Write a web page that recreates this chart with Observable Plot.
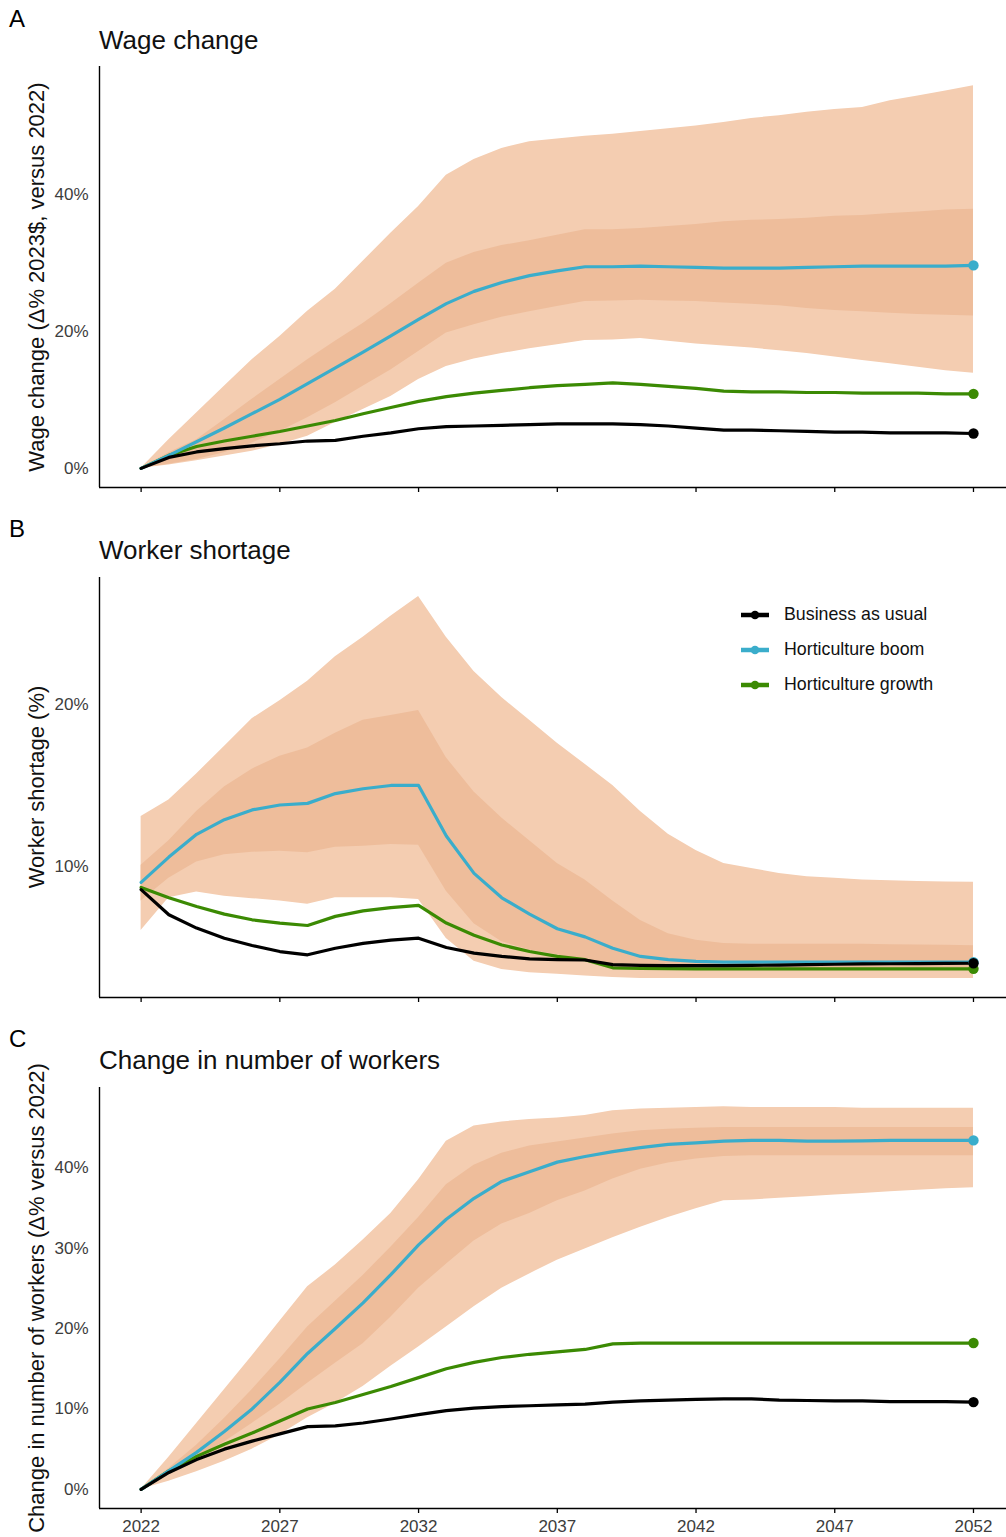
<!DOCTYPE html>
<html>
<head>
<meta charset="utf-8">
<script src="https://cdn.jsdelivr.net/npm/d3@7"></script>
<script src="https://cdn.jsdelivr.net/npm/@observablehq/plot@0.6"></script>
<style>
  html, body { margin: 0; padding: 0; background: #fff; }
  #root { position: relative; width: 1006px; height: 1537px; overflow: hidden; font-family: "Liberation Sans", Arial, Helvetica, sans-serif; }
  .panel { position: absolute; left: 0; }
  .letter { position: absolute; left: 9px; font-size: 24px; line-height: 1; color: #000; }
  .title { position: absolute; left: 99px; font-size: 26px; line-height: 1; color: #111; white-space: nowrap; }
  .ytitle { position: absolute; font-size: 22px; line-height: 1; color: #111; white-space: nowrap; transform: translate(-50%, -50%) rotate(-90deg); }
  .legend { position: absolute; left: 741px; top: 597px; }
  .legend .row { display: flex; align-items: center; height: 35px; font-size: 17.8px; color: #111; }
  .legend svg { margin-right: 15px; }
</style>
</head>
<body>
<div id="root"></div>
<script>
const years = d3.range(2022, 2053);
const scenarios = ["Business as usual", "Horticulture boom", "Horticulture growth"];
const scenarioColors = ["#000000", "#3AADCB", "#3B8A03"];
const xTicks = [2022, 2027, 2032, 2037, 2042, 2047, 2052];

// Panel A: wage change (%)
const wageBAU = [0, 1.6, 2.4, 2.9, 3.3, 3.6, 4.0, 4.1, 4.7, 5.2, 5.8, 6.1, 6.2, 6.3, 6.4, 6.5, 6.5, 6.5, 6.4, 6.2, 5.9, 5.6, 5.6, 5.5, 5.4, 5.3, 5.3, 5.2, 5.2, 5.2, 5.1];
const wageBoom = [0, 1.9, 3.9, 5.9, 8.0, 10.1, 12.4, 14.7, 17.0, 19.4, 21.8, 24.1, 25.9, 27.2, 28.2, 28.9, 29.5, 29.5, 29.6, 29.5, 29.4, 29.3, 29.3, 29.3, 29.4, 29.5, 29.6, 29.6, 29.6, 29.6, 29.7];
const wageGrowth = [0, 1.9, 3.2, 4.0, 4.7, 5.4, 6.2, 7.0, 8.0, 8.9, 9.8, 10.5, 11.0, 11.4, 11.8, 12.1, 12.3, 12.5, 12.3, 12.0, 11.7, 11.3, 11.2, 11.2, 11.1, 11.1, 11.0, 11.0, 11.0, 10.9, 10.9];
const wageOuterLo = [0, 0.5, 1.1, 1.8, 2.5, 3.5, 4.7, 6.7, 8.6, 10.5, 13.0, 14.9, 16.0, 16.8, 17.5, 18.1, 18.7, 18.8, 19.0, 18.6, 18.2, 17.9, 17.6, 17.2, 16.8, 16.3, 15.8, 15.3, 14.8, 14.3, 13.9];
const wageOuterHi = [0, 4.2, 8.1, 12.0, 15.9, 19.3, 23.0, 26.2, 30.3, 34.4, 38.3, 42.9, 45.2, 46.8, 47.8, 48.2, 48.6, 48.9, 49.3, 49.7, 50.1, 50.6, 51.2, 51.6, 52.1, 52.5, 52.8, 53.8, 54.5, 55.2, 56.0];
const wageInnerLo = [0, 0.6, 1.3, 2.3, 3.7, 5.4, 7.4, 9.6, 12.0, 14.4, 17.1, 19.8, 21.0, 22.1, 22.9, 23.7, 24.4, 24.5, 24.6, 24.5, 24.4, 24.2, 24.0, 23.8, 23.4, 23.1, 22.9, 22.7, 22.5, 22.4, 22.3];
const wageInnerHi = [0, 2.3, 4.2, 7.1, 10.1, 13.0, 15.9, 18.6, 21.2, 24.1, 27.1, 30.0, 31.6, 32.6, 33.3, 34.1, 34.9, 34.9, 35.1, 35.4, 35.7, 36.1, 36.3, 36.4, 36.6, 36.9, 37.0, 37.3, 37.5, 37.8, 37.9];

// Panel B: worker shortage (%)
const shortBAU = [8.6, 7.06, 6.24, 5.62, 5.17, 4.8, 4.6, 5.0, 5.3, 5.5, 5.62, 5.05, 4.7, 4.5, 4.35, 4.3, 4.28, 4.0, 3.95, 3.93, 3.93, 3.93, 3.95, 3.97, 4.0, 4.02, 4.04, 4.05, 4.06, 4.07, 4.08];
const shortBoom = [9.05, 10.6, 12.0, 12.9, 13.5, 13.8, 13.9, 14.5, 14.8, 15.0, 15.0, 11.9, 9.6, 8.1, 7.1, 6.2, 5.7, 5.0, 4.5, 4.3, 4.2, 4.15, 4.15, 4.15, 4.15, 4.15, 4.15, 4.15, 4.15, 4.15, 4.15];
const shortGrowth = [8.74, 8.1, 7.57, 7.1, 6.75, 6.55, 6.4, 6.96, 7.3, 7.5, 7.64, 6.55, 5.8, 5.2, 4.8, 4.5, 4.3, 3.8, 3.76, 3.75, 3.74, 3.74, 3.74, 3.74, 3.74, 3.74, 3.74, 3.74, 3.74, 3.74, 3.74];
const shortOuterLo = [6.1, 8.1, 8.46, 8.2, 8.05, 7.9, 7.7, 8.1, 8.1, 8.1, 8.0, 5.6, 4.2, 3.7, 3.5, 3.4, 3.3, 3.2, 3.15, 3.15, 3.15, 3.15, 3.15, 3.15, 3.15, 3.15, 3.15, 3.15, 3.15, 3.15, 3.15];
const shortOuterHi = [13.1, 14.1, 15.7, 17.4, 19.1, 20.2, 21.4, 22.9, 24.1, 25.4, 26.6, 24.1, 22.0, 20.4, 19.0, 17.6, 16.3, 15.0, 13.4, 12.0, 11.0, 10.2, 9.9, 9.6, 9.4, 9.3, 9.2, 9.15, 9.1, 9.07, 9.05];
const shortInnerLo = [7.9, 9.3, 10.3, 10.75, 10.9, 10.96, 10.86, 11.2, 11.27, 11.37, 11.33, 8.5, 6.5, 5.4, 4.9, 4.6, 4.2, 4.0, 3.85, 3.8, 3.75, 3.72, 3.72, 3.72, 3.72, 3.72, 3.72, 3.72, 3.72, 3.72, 3.72];
const shortInnerHi = [10.1, 11.6, 13.4, 14.9, 16.0, 16.8, 17.3, 18.2, 19.0, 19.3, 19.6, 16.7, 14.6, 13.0, 11.6, 10.2, 9.2, 7.9, 6.7, 5.9, 5.5, 5.3, 5.25, 5.25, 5.25, 5.25, 5.25, 5.22, 5.2, 5.18, 5.15];

// Panel C: change in number of workers (%)
const workBAU = [0, 2.1, 3.7, 5.0, 6.0, 6.9, 7.8, 7.9, 8.25, 8.75, 9.3, 9.8, 10.1, 10.3, 10.4, 10.5, 10.6, 10.85, 11.0, 11.1, 11.2, 11.25, 11.25, 11.1, 11.05, 11.0, 11.0, 10.9, 10.9, 10.9, 10.85];
const workBoom = [0, 2.3, 4.6, 7.2, 10.0, 13.3, 16.9, 20.0, 23.2, 26.7, 30.4, 33.6, 36.2, 38.3, 39.5, 40.7, 41.4, 42.0, 42.5, 42.9, 43.1, 43.3, 43.4, 43.4, 43.3, 43.3, 43.35, 43.4, 43.4, 43.4, 43.4];
const workGrowth = [0, 2.3, 4.1, 5.6, 7.0, 8.5, 10.0, 10.8, 11.8, 12.8, 13.9, 15.0, 15.8, 16.4, 16.8, 17.1, 17.4, 18.1, 18.2, 18.2, 18.2, 18.2, 18.2, 18.2, 18.2, 18.2, 18.2, 18.2, 18.2, 18.2, 18.2];
const workOuterLo = [0, 1.0, 2.2, 3.5, 5.0, 6.8, 8.9, 10.7, 12.8, 15.3, 17.7, 20.2, 22.7, 25.0, 26.8, 28.5, 29.9, 31.3, 32.6, 33.8, 34.9, 35.9, 36.0, 36.2, 36.4, 36.6, 36.8, 37.0, 37.2, 37.4, 37.5];
const workOuterHi = [0, 4.0, 8.2, 12.4, 16.6, 20.9, 25.2, 27.9, 31.0, 34.3, 38.5, 43.3, 45.2, 45.7, 46.0, 46.2, 46.5, 47.1, 47.3, 47.4, 47.5, 47.6, 47.5, 47.5, 47.5, 47.5, 47.4, 47.4, 47.4, 47.4, 47.4];
const workInnerLo = [0, 1.8, 3.8, 5.9, 8.2, 10.6, 13.2, 15.7, 18.1, 21.4, 25.0, 28.0, 30.9, 33.0, 34.3, 35.9, 37.1, 38.6, 39.8, 40.6, 41.1, 41.4, 41.5, 41.5, 41.5, 41.5, 41.5, 41.5, 41.5, 41.5, 41.5];
const workInnerHi = [0, 2.6, 5.5, 8.8, 12.4, 16.2, 20.2, 23.4, 26.6, 30.1, 33.8, 37.9, 40.3, 41.8, 42.7, 43.2, 43.7, 44.2, 44.6, 44.8, 44.9, 45.0, 45.0, 45.0, 45.0, 45.0, 45.0, 45.0, 45.0, 45.0, 45.0];

const fontFamily = '"Liberation Sans", Arial, Helvetica, sans-serif';
const outerFill = "#F4CDB1";
const innerFill = "#EEBD9B";
const tickColor = "#3d3d3d";

function makePanel(cfg) {
  const band = years.map((yr, i) => ({year: yr, olo: cfg.outerLo[i], ohi: cfg.outerHi[i], ilo: cfg.innerLo[i], ihi: cfg.innerHi[i]}));
  const seriesByName = {"Business as usual": cfg.bau, "Horticulture boom": cfg.boom, "Horticulture growth": cfg.growth};
  const drawOrder = ["Horticulture growth", "Horticulture boom", "Business as usual"];
  const lines = drawOrder.flatMap(s => years.map((yr, i) => ({year: yr, scenario: s, value: seriesByName[s][i]})));
  const ends = drawOrder.map(s => ({year: years[years.length - 1], scenario: s, value: seriesByName[s][years.length - 1]}));
  const all = [...cfg.bau, ...cfg.boom, ...cfg.growth, ...cfg.outerLo, ...cfg.outerHi, ...cfg.innerLo, ...cfg.innerHi];
  const [lo, hi] = d3.extent(all);
  const pad = (hi - lo) * 0.05;
  const yDomain = [lo - pad, hi + pad];
  const xDomain = [2022 - 1.5, 2052 + 1.5];
  return Plot.plot({
    width: 1006,
    height: cfg.height,
    marginLeft: 99,
    marginRight: 0,
    marginTop: cfg.marginTop,
    marginBottom: cfg.marginBottom,
    style: {fontFamily, fontSize: "17px", background: "transparent", overflow: "visible"},
    x: {domain: xDomain, range: [99, 1014.6]},
    y: {domain: yDomain},
    color: {domain: scenarios, range: scenarioColors},
    marks: [
      Plot.areaY(band, {x: "year", y1: "olo", y2: "ohi", fill: outerFill}),
      Plot.areaY(band, {x: "year", y1: "ilo", y2: "ihi", fill: innerFill}),
      Plot.lineY(lines, {x: "year", y: "value", z: "scenario", stroke: "scenario", strokeWidth: 3.2, curve: "linear"}),
      Plot.dot(ends, {x: "year", y: "value", fill: "scenario", r: 5.2}),
      Plot.ruleY([yDomain[0]], {stroke: "#000", strokeWidth: 1.4}),
      Plot.ruleX([xDomain[0]], {stroke: "#000", strokeWidth: 1.4}),
      Plot.axisX({ticks: xTicks, tickSize: 5, tickPadding: 6, stroke: "#000", strokeWidth: 1.3, fill: tickColor,
        tickFormat: cfg.xLabels ? (d => String(d)) : (() => ""), label: null}),
      Plot.axisY({ticks: cfg.yTicks, tickSize: 0, tickPadding: 11, fill: tickColor, tickFormat: d => d + "%", label: null})
    ]
  });
}

const root = document.getElementById("root");
const panels = [
  {top: 0, letter: "A", title: "Wage change", height: 510, marginTop: 66, marginBottom: 23,
   bau: wageBAU, boom: wageBoom, growth: wageGrowth, outerLo: wageOuterLo, outerHi: wageOuterHi, innerLo: wageInnerLo, innerHi: wageInnerHi,
   yTicks: [0, 20, 40], yLabel: "Wage change (Δ% 2023$, versus 2022)", xLabels: false},
  {top: 510, letter: "B", title: "Worker shortage", height: 510, marginTop: 67, marginBottom: 23,
   bau: shortBAU, boom: shortBoom, growth: shortGrowth, outerLo: shortOuterLo, outerHi: shortOuterHi, innerLo: shortInnerLo, innerHi: shortInnerHi,
   yTicks: [10, 20], yLabel: "Worker shortage (%)", xLabels: false},
  {top: 1020, letter: "C", title: "Change in number of workers", height: 517, marginTop: 67, marginBottom: 29,
   bau: workBAU, boom: workBoom, growth: workGrowth, outerLo: workOuterLo, outerHi: workOuterHi, innerLo: workInnerLo, innerHi: workInnerHi,
   yTicks: [0, 10, 20, 30, 40], yLabel: "Change in number of workers (Δ% versus 2022)", xLabels: true}
];

for (const p of panels) {
  const wrap = document.createElement("div");
  wrap.className = "panel";
  wrap.style.top = p.top + "px";
  wrap.appendChild(makePanel(p));
  root.appendChild(wrap);

  const letter = document.createElement("div");
  letter.className = "letter";
  letter.textContent = p.letter;
  letter.style.top = (p.top + 27 - 20.3) + "px";
  root.appendChild(letter);

  const title = document.createElement("div");
  title.className = "title";
  title.textContent = p.title;
  title.style.top = (p.top + 49 - 22) + "px";
  root.appendChild(title);

  const yt = document.createElement("div");
  yt.className = "ytitle";
  yt.textContent = p.yLabel;
  yt.style.left = "37px";
  yt.style.top = (p.top + p.marginTop + (p.height - p.marginTop - p.marginBottom) / 2) + "px";
  root.appendChild(yt);
}

// Legend (panel B)
const legend = document.createElement("div");
legend.className = "legend";
scenarios.forEach((s, i) => {
  const row = document.createElement("div");
  row.className = "row";
  const c = scenarioColors[i];
  row.innerHTML = `<svg width="28" height="12"><line x1="0" x2="28" y1="6" y2="6" stroke="${c}" stroke-width="4.5"/><circle cx="14" cy="6" r="4.3" fill="${c}"/></svg><span>${s}</span>`;
  legend.appendChild(row);
});
root.appendChild(legend);
</script>
</body>
</html>
